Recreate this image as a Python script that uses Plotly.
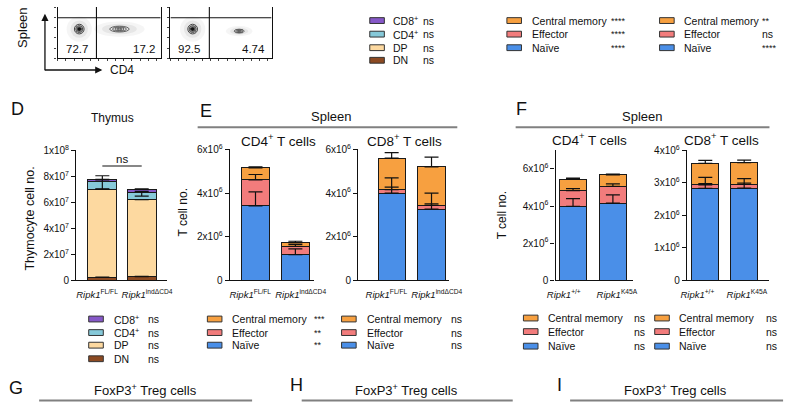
import numpy as np
import plotly.graph_objects as go

W, H = 800, 419
FONT = "Liberation Sans, Arial, Helvetica, sans-serif"
INK = "#111111"
NB = "\u00a0"

# ---------------- colours ----------------
C_CD8, C_CD4, C_DP, C_DN = "#8658c8", "#86c9d9", "#fdd9a0", "#8c4a22"
C_CM, C_EFF, C_NAIVE = "#f7a040", "#f27c7c", "#4a8fe8"

# ---------------- data ----------------
# Flow plots (CD4 vs CD8, spleen)
flow1_quad = ["72.7", "17.2"]
flow2_quad = ["92.5", "4.74"]
flow_gate_x = [37.7, 38.5]
flow_gate_y = 79
# populations: centre x, centre y, radius x, radius y (axis units)
flow1_pops = [(21, 57, 4.7, 9.4), (60, 57, 9.4, 5.7)]
flow2_pops = [(22, 57, 4.8, 9.4), (68, 53, 5.0, 3.8)]

# D  Thymus
d_cats = ["<i>Ripk1</i><sup>FL/FL</sup>", "<i>Ripk1</i><sup>indΔCD4</sup>"]
d_DN = [2.3e6, 2.8e6]
d_DP = [6.77e7, 5.92e7]
d_CD4 = [0.58e7, 0.58e7]
d_CD8 = [0.15e7, 0.20e7]
d_err_up = [[0.02e7, 0.03e7], [0.0, 0.0], [0.47e7, 0.05e7], [0.05e7, 0.05e7]]
d_err_dn = [[0.0, 0.0], [0.0, 0.0], [0.55e7, 0.30e7], [0.0, 0.0]]
d_sig = ["ns", "ns", "ns", "ns"]  # CD8, CD4, DP, DN order in legend

# E  Spleen (Ripk1 FL/FL vs indΔCD4)
e_cats = ["<i>Ripk1</i><sup>FL/FL</sup>", "<i>Ripk1</i><sup>indΔCD4</sup>"]
e4_naive = [3.41e6, 1.17e6]
e4_eff = [1.19e6, 0.38e6]
e4_cm = [0.55e6, 0.18e6]
e4_err = [[0.64e6, 0.27e6], [0.25e6, 0.10e6], [0.05e6, 0.06e6]]
e8_naive = [4.00e6, 3.26e6]
e8_eff = [0.15e6, 0.18e6]
e8_cm = [1.45e6, 1.76e6]
e8_err = [[0.27e6, 0.24e6], [0.55e6, 0.56e6], [0.25e6, 0.45e6]]
e4_sig = ["***", "**", "**"]
e8_sig = ["ns", "ns", "ns"]

# F  Spleen (Ripk1 +/+ vs K45A)
f_cats = ["<i>Ripk1</i><sup>+/+</sup>", "<i>Ripk1</i><sup>K45A</sup>"]
f4_naive = [3.99e6, 4.16e6]
f4_eff = [0.84e6, 0.90e6]
f4_cm = [0.61e6, 0.62e6]
f4_err = [[0.41e6, 0.44e6], [0.11e6, 0.14e6], [0.07e6, 0.04e6]]
f8_naive = [2.83e6, 2.84e6]
f8_eff = [0.11e6, 0.11e6]
f8_cm = [0.66e6, 0.67e6]
f8_err = [[0.15e6, 0.15e6], [0.23e6, 0.18e6], [0.09e6, 0.08e6]]
f4_sig = ["ns", "ns", "ns"]
f8_sig = ["ns", "ns", "ns"]

# top legends (belong to panels above the crop)
top_thy_sig = ["ns", "ns", "ns", "ns"]
top_mid_sig = ["****", "****", "****"]
top_right_sig = ["**", "ns", "****"]

tcell_names = ["Central memory", "Effector", "Naïve"]
tcell_cols = [C_CM, C_EFF, C_NAIVE]
thy_names = ["CD8<sup>+</sup>", "CD4<sup>+</sup>", "DP", "DN"]
thy_cols = [C_CD8, C_CD4, C_DP, C_DN]


def fx(p):
    return p / W


def fy(p):
    return 1 - p / H


fig = go.Figure()
shapes, annos = [], []
layout_axes = {}


def bar_axis(idx, a, b, c0, c1, ytop, ybot, yrange, ticks, cats, pads):
    unit = c1 - c0
    xr = [(a - c0) / unit, (b - c0) / unit]
    xn = "xaxis" if idx == 1 else f"xaxis{idx}"
    yn = "yaxis" if idx == 1 else f"yaxis{idx}"
    labels = [cats[0] + NB * pads[0], NB * pads[1] + cats[1]]
    layout_axes[xn] = dict(domain=[fx(a), fx(b)], range=xr, anchor=f"y{idx}",
                           showline=True, linecolor=INK, linewidth=1.2,
                           showgrid=False, zeroline=False, tickangle=0,
                           ticks="outside", ticklen=5, tickcolor="rgba(0,0,0,0)",
                           tickvals=[0, 1], ticktext=labels,
                           tickfont=dict(family=FONT, size=9.5, color=INK))
    layout_axes[yn] = dict(domain=[fy(ybot), fy(ytop)], range=yrange, anchor=f"x{idx}",
                           showline=True, linecolor=INK, linewidth=1.2,
                           showgrid=False, zeroline=False,
                           ticks="outside", ticklen=4, tickwidth=1.1, tickcolor=INK,
                           tickvals=ticks[0], ticktext=ticks[1],
                           tickfont=dict(family=FONT, size=10, color=INK))
    return (c1 - c0)


def stacked(idx, series, colors, errs_up, errs_dn, width):
    xs = [0, 1]
    ax = "x" if idx == 1 else f"x{idx}"
    ay = "y" if idx == 1 else f"y{idx}"
    for s, c in zip(series, colors):
        fig.add_trace(go.Bar(x=xs, y=s, marker=dict(color=c, line=dict(color="#1a1a1a", width=1)),
                             width=[width, width], xaxis=ax, yaxis=ay, hoverinfo="skip"))
    tops = np.cumsum(np.array(series, dtype=float), axis=0)
    for k in range(len(series)):
        up = errs_up[k]
        dn = errs_dn[k] if errs_dn is not None else [0, 0]
        fig.add_trace(go.Scatter(x=xs, y=tops[k], mode="markers", marker=dict(opacity=0, size=1),
                                 xaxis=ax, yaxis=ay, hoverinfo="skip",
                                 error_y=dict(type="data", symmetric=False, array=up, arrayminus=dn,
                                              color=INK, thickness=1.2, width=7)))


def sci(v, e):
    return f"{v}x10<sup>{e}</sup>"


# ---- flow axes ----
for idx, (a, b) in [(1, (51, 157)), (2, (167, 271))]:
    xn = "xaxis" if idx == 1 else f"xaxis{idx}"
    yn = "yaxis" if idx == 1 else f"yaxis{idx}"
    layout_axes[xn] = dict(domain=[fx(a), fx(b)], range=[0, 100], anchor=f"y{idx}",
                           showline=True, linecolor=INK, linewidth=1.2, showgrid=False,
                           zeroline=False, ticks="outside", ticklen=2, tickcolor="#444",
                           dtick=8, showticklabels=False)
    layout_axes[yn] = dict(domain=[fy(53), 1.0], range=[0, 100], anchor=f"x{idx}",
                           showline=True, mirror=True, linecolor=INK, linewidth=1.2,
                           showgrid=False, zeroline=False, ticks="outside", ticklen=2,
                           tickcolor="#444", dtick=20, showticklabels=False)

for idx, pops, quad, gx in [(1, flow1_pops, flow1_quad, flow_gate_x[0]),
                            (2, flow2_pops, flow2_quad, flow_gate_x[1])]:
    xr = "x" if idx == 1 else f"x{idx}"
    yr = "y" if idx == 1 else f"y{idx}"
    fig.add_trace(go.Scatter(x=[0], y=[0], mode="markers", marker=dict(opacity=0),
                             xaxis=xr, yaxis=yr, hoverinfo="skip"))
    for j, (cx, cy, rx, ry) in enumerate(pops):
        for s, op in [(2.6, 0.10), (1.8, 0.16)]:
            shapes.append(dict(type="circle", xref=xr, yref=yr, x0=cx - rx * s, x1=cx + rx * s,
                               y0=cy - ry * s, y1=cy + ry * s, fillcolor="#9a9a9a", opacity=op,
                               line=dict(width=0), layer="below"))
        levels = [1.0, 0.72, 0.48, 0.26]
        for s in levels:
            shapes.append(dict(type="circle", xref=xr, yref=yr, x0=cx - rx * s, x1=cx + rx * s,
                               y0=cy - ry * s, y1=cy + ry * s,
                               line=dict(color="#333" if j == 0 else "#555", width=0.9)))
        if j == 0:
            s = 0.3
            shapes.append(dict(type="circle", xref=xr, yref=yr, x0=cx - rx * s, x1=cx + rx * s,
                               y0=cy - ry * s, y1=cy + ry * s, fillcolor="#111",
                               line=dict(color="#111", width=0.8)))
    shapes.append(dict(type="line", xref=xr, yref=yr, x0=gx, x1=gx, y0=0, y1=100,
                       line=dict(color=INK, width=1.1)))
    shapes.append(dict(type="line", xref=xr, yref=yr, x0=0, x1=100, y0=flow_gate_y, y1=flow_gate_y,
                       line=dict(color=INK, width=1.1)))
    annos.append(dict(xref=xr, yref=yr, x=6, y=19, text=quad[0], showarrow=False, xanchor="left",
                      yanchor="middle", font=dict(family=FONT, size=11.5, color=INK)))
    annos.append(dict(xref=xr, yref=yr, x=96, y=19, text=quad[1], showarrow=False, xanchor="right",
                      yanchor="middle", font=dict(family=FONT, size=11.5, color=INK)))

# arrows of flow axes
annos.append(dict(xref="paper", yref="paper", x=fx(38), y=fy(7), ax=0, ay=58, text="",
                  showarrow=True, arrowhead=2, arrowsize=1.1, arrowwidth=1.3, arrowcolor=INK))
annos.append(dict(xref="paper", yref="paper", x=fx(97), y=fy(65), ax=-59, ay=0, text="",
                  showarrow=True, arrowhead=2, arrowsize=1.1, arrowwidth=1.3, arrowcolor=INK))
annos.append(dict(xref="paper", yref="paper", x=fx(103), y=fy(65), text="CD4", showarrow=False,
                  xanchor="left", yanchor="middle", font=dict(family=FONT, size=12, color=INK)))
annos.append(dict(xref="paper", yref="paper", x=fx(15), y=fy(22), text="Spleen", showarrow=False,
                  textangle=-90, xanchor="center", yanchor="middle",
                  font=dict(family=FONT, size=13, color=INK)))

# ---- D ----
u = bar_axis(3, 70, 163, 97, 137.5, 148, 282, [0, 1e8],
             ([0, 2e7, 4e7, 6e7, 8e7, 1e8], ["0", sci(2, 7), sci(4, 7), sci(6, 7), sci(8, 7), sci(1, 8)]),
             d_cats, [4, 4])
stacked(3, [d_DN, d_DP, d_CD4, d_CD8], [C_DN, C_DP, C_CD4, C_CD8], d_err_up, d_err_dn, 30 / u)
shapes.append(dict(type="line", xref="x3", yref="y3", x0=0, x1=1, y0=8.8e7, y1=8.8e7,
                   line=dict(color=INK, width=1.1)))
annos.append(dict(xref="x3", yref="y3", x=0.5, y=8.8e7, text="ns", showarrow=False, yanchor="bottom",
                  yshift=-1, font=dict(family=FONT, size=11.5, color=INK)))

# ---- E ----
u = bar_axis(4, 228, 315, 254.5, 295.5, 147, 282, [0, 6e6],
             ([0, 2e6, 4e6, 6e6], ["0", sci(2, 6), sci(4, 6), sci(6, 6)]), e_cats, [4, 4])
stacked(4, [e4_naive, e4_eff, e4_cm], [C_NAIVE, C_EFF, C_CM], e4_err, None, 29 / u)
u = bar_axis(5, 360, 453, 394.5, 435.5, 147, 282, [0, 6e6],
             ([0, 2e6, 4e6, 6e6], ["0", sci(2, 6), sci(4, 6), sci(6, 6)]), e_cats, [4, 4])
stacked(5, [e8_naive, e8_eff, e8_cm], [C_NAIVE, C_EFF, C_CM], e8_err, None, 28 / u)

# ---- F ----
u = bar_axis(6, 563, 643, 581, 622, 148, 282, [0, 7e6],
             ([0, 2e6, 4e6, 6e6], ["0", sci(2, 6), sci(4, 6), sci(6, 6)]), f_cats, [7, 3])
stacked(6, [f4_naive, f4_eff, f4_cm], [C_NAIVE, C_EFF, C_CM], f4_err, None, 28 / u)
u = bar_axis(7, 698, 783, 717, 757, 148, 282, [0, 4e6],
             ([0, 1e6, 2e6, 3e6, 4e6], ["0", sci(1, 6), sci(2, 6), sci(3, 6), sci(4, 6)]), f_cats, [6, 2])
stacked(7, [f8_naive, f8_eff, f8_cm], [C_NAIVE, C_EFF, C_CM], f8_err, None, 28 / u)


# ---- text helpers ----
def txt(x, y, t, size, anchor="center", angle=0):
    annos.append(dict(xref="paper", yref="paper", x=fx(x), y=fy(y), text=t, showarrow=False,
                      xanchor=anchor, yanchor="middle", textangle=angle,
                      font=dict(family=FONT, size=size, color=INK)))


def hline(x0, x1, y, color="#808080", w=2):
    shapes.append(dict(type="line", xref="paper", yref="paper", x0=fx(x0), x1=fx(x1), y0=fy(y), y1=fy(y),
                       line=dict(color=color, width=w)))


def legend(sx, tx, gx, rows, names, cols, sigs):
    for r, n, c, s in zip(rows, names, cols, sigs):
        shapes.append(dict(type="rect", xref="paper", yref="paper", x0=fx(sx), x1=fx(sx + 15),
                           y0=fy(r + 3), y1=fy(r - 3), fillcolor=c, line=dict(color="#333", width=1)))
        txt(tx, r, n, 10.5, "left")
        txt(gx, r, s, 9 if "*" in s else 10.5, "left")


# panel letters
txt(10, 105, "D", 18)
txt(204, 107, "E", 18)
txt(528, 105, "F", 18)
txt(8, 393, "G", 18)
txt(297, 390, "H", 18)
txt(567, 390, "I", 18)

# titles
txt(107, 115, "Thymus", 12)
txt(332, 113, "Spleen", 13)
hline(195, 462, 124)
txt(652, 113, "Spleen", 13)
hline(522, 783, 124)
txt(278, 137, "CD4<sup>+</sup> T cells", 13.5)
txt(408, 137, "CD8<sup>+</sup> T cells", 13.5)
txt(598, 136, "CD4<sup>+</sup> T cells", 13.5)
txt(734, 136, "CD8<sup>+</sup> T cells", 13.5)

txt(23, 218, "Thymocyte cell no.", 12.5, angle=-90)
txt(180, 212, "T cell no.", 12, angle=-90)
txt(508, 215, "T cell no.", 12, angle=-90)

for cx, x0, x1 in [(141, 32, 251), (410, 302, 519), (686, 578, 797)]:
    txt(cx, 395, "FoxP3<sup>+</sup> Treg cells", 13)
    hline(x0, x1, 406)

# legends
legend(372, 394, 425, [14, 28, 42, 55], thy_names, thy_cols, top_thy_sig)
legend(513, 537, 618, [14, 28, 42], tcell_names, tcell_cols, top_mid_sig)
legend(670, 693, 773, [14, 28, 42], tcell_names, tcell_cols, top_right_sig)
legend(83, 107, 142, [322, 336, 349, 363], thy_names, thy_cols, d_sig)
legend(205, 228, 313, [322, 336, 349], tcell_names, tcell_cols, e4_sig)
legend(343, 367, 453, [322, 336, 349], tcell_names, tcell_cols, e8_sig)
legend(530, 553, 642, [321, 335, 350], tcell_names, tcell_cols, f4_sig)
legend(665, 688, 777, [321, 335, 350], tcell_names, tcell_cols, f8_sig)

fig.update_layout(width=W, height=H, margin=dict(l=0, r=0, t=0, b=0),
                  paper_bgcolor="white", plot_bgcolor="white", showlegend=False,
                  barmode="stack", font=dict(family=FONT, color=INK),
                  shapes=shapes, annotations=annos, **layout_axes)

fig.write_html("out.html", config={"displayModeBar": False},
               post_script="document.body.style.margin='0';document.body.style.overflow='hidden';")
